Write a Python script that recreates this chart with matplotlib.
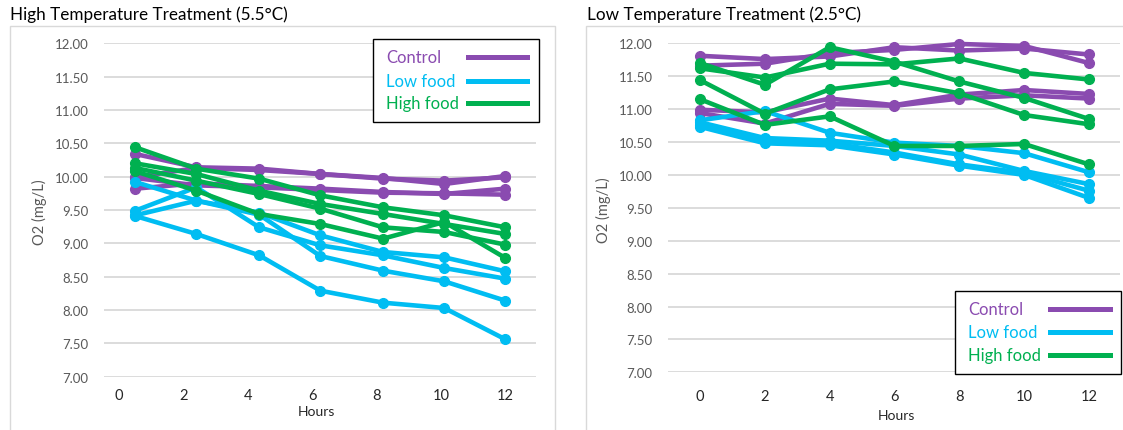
import matplotlib
matplotlib.use("Agg")
import matplotlib.pyplot as plt
from matplotlib.patches import Rectangle
from matplotlib.lines import Line2D

plt.rcParams["font.family"] = ["Lato", "DejaVu Sans"]

PURPLE = "#8a4bb0"
CYAN = "#00bdf2"
GREEN = "#00b050"
GRID = "#d9d9d9"
TICK = "#595959"

# --- data -------------------------------------------------------------
hours_high = [0.5, 2.4, 4.35, 6.25, 8.2, 10.1, 12]
hours_low = [0, 2, 4, 6, 8, 10, 12]

high_control = [
    [10.34, 10.14, 10.12, 10.04, 9.98, 9.89, 10.01],
    [9.99, 10.13, 10.10, 10.04, 9.97, 9.94, 9.99],
    [9.82, 9.90, 9.86, 9.82, 9.77, 9.74, 9.82],
    [9.98, 9.87, 9.84, 9.80, 9.76, 9.75, 9.73],
]
high_lowfood = [
    [9.92, 9.64, 9.46, 9.12, 8.87, 8.79, 8.58],
    [9.49, 9.84, 9.24, 8.97, 8.82, 8.63, 8.47],
    [9.42, 9.64, 9.43, 8.81, 8.59, 8.43, 8.14],
    [9.41, 9.14, 8.82, 8.29, 8.11, 8.03, 7.56],
]
high_highfood = [
    [10.44, 10.12, 9.97, 9.72, 9.54, 9.42, 9.24],
    [10.20, 10.04, 9.79, 9.59, 9.44, 9.29, 9.14],
    [10.13, 9.94, 9.74, 9.52, 9.24, 9.17, 8.98],
    [10.08, 9.79, 9.44, 9.29, 9.07, 9.32, 8.78],
]

low_control = [
    [11.81, 11.76, 11.80, 11.94, 11.89, 11.92, 11.83],
    [11.66, 11.69, 11.85, 11.90, 11.99, 11.96, 11.70],
    [10.99, 10.95, 11.16, 11.06, 11.22, 11.29, 11.23],
    [10.94, 10.78, 11.08, 11.05, 11.16, 11.21, 11.16],
]
low_lowfood = [
    [10.83, 10.97, 10.64, 10.49, 10.44, 10.33, 10.04],
    [10.80, 10.56, 10.52, 10.44, 10.31, 10.06, 9.86],
    [10.76, 10.51, 10.48, 10.34, 10.16, 10.03, 9.76],
    [10.73, 10.48, 10.45, 10.31, 10.14, 10.00, 9.65],
]
low_highfood = [
    [11.70, 11.37, 11.94, 11.72, 11.42, 11.17, 10.85],
    [11.62, 11.48, 11.69, 11.68, 11.77, 11.55, 11.45],
    [11.44, 10.93, 11.30, 11.42, 11.24, 10.91, 10.77],
    [11.15, 10.76, 10.89, 10.44, 10.44, 10.47, 10.16],
]

series_names = ["Control", "Low food", "High food"]
series_colors = [PURPLE, CYAN, GREEN]
y_ticks = [7.0, 7.5, 8.0, 8.5, 9.0, 9.5, 10.0, 10.5, 11.0, 11.5, 12.0]
x_ticks = [0, 2, 4, 6, 8, 10, 12]

W, H = 1123, 431
fig = plt.figure(figsize=(W / 100, H / 100), dpi=100)
fig.patch.set_facecolor("white")


def fx(x):
    return x / W


def fy(y):
    return 1 - y / H


# light chart frames (open at the bottom, like the cropped screenshot)
for x0, x1 in [(9.5, 555), (586, 1130)]:
    fig.patches.append(Rectangle((fx(x0), fy(440)), fx(x1 - x0), (440 - 27) / H,
                                 transform=fig.transFigure, fill=False,
                                 edgecolor=GRID, linewidth=1.0))


def make_axes(rect, hours, groups, xlim, xpad):
    ax = fig.add_axes(rect)
    for grp, col in zip(groups, series_colors):
        for reps in grp:
            ax.plot(hours, reps, color=col, lw=3.3, marker="o", ms=7,
                    solid_capstyle="round", clip_on=False, zorder=3)
    ax.set_xlim(*xlim)
    ax.set_ylim(7, 12)
    ax.set_yticks(y_ticks)
    ax.set_yticklabels([f"{v:.2f}" for v in y_ticks], color=TICK, fontsize=9.5)
    ax.set_xticks(x_ticks)
    ax.set_xticklabels([str(v) for v in x_ticks], color="#262626", fontsize=10.5)
    ax.tick_params(axis="both", length=0)
    ax.tick_params(axis="y", pad=11)
    ax.tick_params(axis="x", pad=xpad)
    ax.grid(axis="y", color=GRID, lw=1.3)
    ax.set_axisbelow(True)
    for s in ax.spines.values():
        s.set_visible(False)
    return ax


ax1 = make_axes([fx(104), fy(377.7), fx(432), 333.4 / H], hours_high,
                [high_control, high_lowfood, high_highfood], (-0.47, 12.95), 8)
ax2 = make_axes([fx(668), fy(373.3), fx(452), 329 / H], hours_low,
                [low_control, low_lowfood, low_highfood], (-0.99, 12.96), 12)

# titles
fig.text(fx(10), fy(15), "High Temperature Treatment (5.5°C)", fontsize=12.3,
         ha="left", va="center", color="black")
fig.text(fx(587), fy(15), "Low Temperature Treatment (2.5°C)", fontsize=12.3,
         ha="left", va="center", color="black")

# axis labels
for x, y in [(39, 212), (603, 210)]:
    fig.text(fx(x), fy(y), "O2 (mg/L)", rotation=90, fontsize=10.5,
             color=TICK, ha="center", va="center")
for x, y in [(316, 412), (896, 416)]:
    fig.text(fx(x), fy(y), "Hours", fontsize=10, color="#262626",
             ha="center", va="center")


# legends
def legend_box(x0, y0, x1, y1, text_x, rows, h0, h1):
    fig.patches.append(Rectangle((fx(x0), fy(y1)), fx(x1 - x0), (y1 - y0) / H,
                                 transform=fig.transFigure, facecolor="white",
                                 edgecolor="black", linewidth=1.0, zorder=5))
    for name, col, ry in zip(series_names, series_colors, rows):
        fig.text(fx(text_x), fy(ry), name, color=col, fontsize=12,
                 ha="left", va="center", zorder=6)
        fig.lines.append(Line2D([fx(h0), fx(h1)], [fy(ry), fy(ry)],
                                transform=fig.transFigure, color=col,
                                lw=3.6, zorder=6))


legend_box(372.5, 40, 539, 123, 386, [58, 82, 104], 468, 527)
legend_box(955, 292, 1121, 375, 968, [310, 333, 356], 1050, 1110)

fig.savefig("out.png", dpi=100, facecolor="white")
